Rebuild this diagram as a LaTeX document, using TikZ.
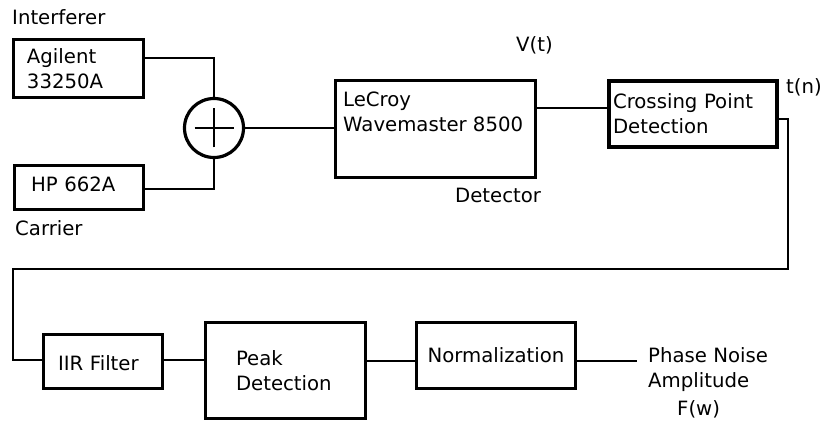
\documentclass[tikz,border=0pt]{standalone}
\usepackage{fontspec}
\setmainfont{DejaVu Sans}
\usetikzlibrary{positioning}

\begin{document}
\begin{tikzpicture}[x=1pt,y=-1pt,font=\fontsize{19.7}{25}\selectfont,
blk/.style={draw,line width=3.4pt,inner ysep=0pt,align=left},
txt/.style={inner sep=0pt,align=left},
wire/.style={line width=2pt}]
\useasboundingbox (0,0) rectangle (822,422);
\node[txt,anchor=base west] (intf) at (12,25) {Interferer};
\node[blk,minimum width=130pt,minimum height=58pt,inner xsep=13.3pt,text width=103pt] (agilent) at (78.5,68.5) {Agilent\\33250A};
\node[blk,minimum width=129pt,minimum height=44pt,inner xsep=16.3pt,text width=96pt,text depth=7.4pt] (hp) at (79,187.5) {HP 662A};
\node[txt,anchor=base west] (carr) at (15,236) {Carrier};
\node[draw,circle,line width=3.2pt,minimum size=59pt,inner sep=0pt] (sum) at (214,128) {};
\draw[wire] ([xshift=-19.5pt]sum.center) -- ([xshift=19.5pt]sum.center);
\draw[wire] ([yshift=-19.5pt]sum.center) -- ([yshift=19.5pt]sum.center);
\node[blk,minimum width=200pt,minimum height=97pt] (scope) at (435.5,129) {};
\node[txt,anchor=north west] (scopetxt) at (343,92) {LeCroy\\Wavemaster 8500};
\node[txt,anchor=base west] (vt) at (516,52) {V(t)};
\node[txt,anchor=base west] (det) at (455,203) {Detector};
\node[blk,line width=4pt,minimum width=168pt,minimum height=66pt,inner xsep=3.3pt,text width=160pt] (cross) at (693,114) {Crossing Point\\Detection};
\node[txt,anchor=base west] (tn) at (786,94) {t(n)};
\node[blk,minimum width=119pt,minimum height=54pt,inner xsep=14.3pt,text width=90pt,text height=19pt] (iir) at (103,361.5) {IIR Filter};
\node[blk,minimum width=160pt,minimum height=96pt,inner xsep=30pt,text width=99pt] (peak) at (285.5,370.5) {Peak\\Detection};
\node[blk,minimum width=159pt,minimum height=66pt] (norm) at (496,355.5) {Normalization};
\node[txt,anchor=north west] (pna) at (648,347) {Phase Noise\\Amplitude};
\node[txt,anchor=base west] (fw) at (677,415) {F(w)};
\coordinate (fbR) at (788,269);
\coordinate (fbL) at (13,269);
\coordinate (out) at (637,360.5);
\draw[wire] ([yshift=10.5pt]agilent.east) -| (sum.north);
\draw[wire] ([yshift=-2pt]hp.east) -| (sum.south);
\draw[wire] (sum.east) -- (sum.east -| scope.west);
\draw[wire] ([yshift=21pt]scope.east) -- ([yshift=21pt]scope.east -| cross.west);
\draw[wire] ([yshift=-5pt]cross.east) -| (fbR) -- (fbL) |- ([yshift=1.5pt]iir.west);
\draw[wire] ([yshift=1.5pt]iir.east) -- ([yshift=1.5pt]iir.east -| peak.west);
\draw[wire] (peak.east |- out) -- (norm.west |- out);
\draw[wire] (norm.east |- out) -- (out);
\end{tikzpicture}
\end{document}
